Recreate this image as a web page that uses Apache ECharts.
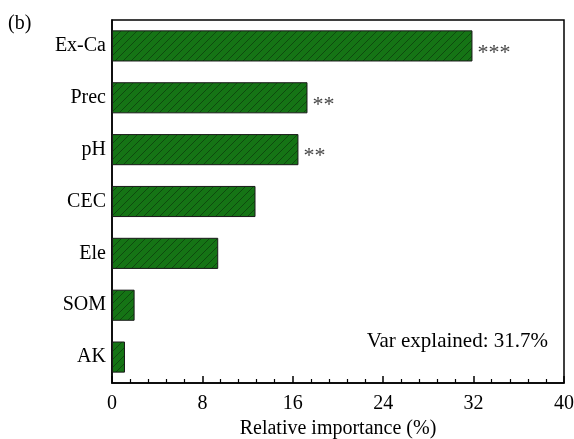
<!DOCTYPE html>
<html>
<head>
<meta charset="utf-8">
<script src="https://cdn.jsdelivr.net/npm/echarts@6/dist/echarts.min.js"></script>
<style>html,body{margin:0;padding:0;background:#fff}#c{width:574px;height:439px}</style>
</head>
<body>
<div id="c"></div>
<script>
var categories = ['Ex-Ca', 'Prec', 'pH', 'CEC', 'Ele', 'SOM', 'AK'];
var importance = [31.9, 17.3, 16.5, 12.7, 9.4, 2.0, 1.15];
var significance = ['***', '**', '**', '', '', '', ''];
var xTicks = [0, 8, 16, 24, 32, 40];

var pc = document.createElement('canvas');
pc.width = 8; pc.height = 8;
var g = pc.getContext('2d');
g.fillStyle = '#157415';
g.fillRect(0, 0, 8, 8);
g.strokeStyle = '#0c3f0c';
g.lineWidth = 0.8;
g.beginPath();
g.moveTo(-1, 9); g.lineTo(9, -1);
g.moveTo(-1, 1); g.lineTo(1, -1);
g.moveTo(7, 9); g.lineTo(9, 7);
g.stroke();

var chart = echarts.init(document.getElementById('c'), null, {renderer: 'canvas'});
var font = 'Liberation Serif';
chart.setOption({
  animation: false,
  grid: {left: 112, right: 10, top: 20, bottom: 56, outerBoundsMode: 'none', containLabel: false,
         show: true, borderColor: '#000', borderWidth: 1.5, backgroundColor: 'transparent'},
  xAxis: {
    type: 'value', min: xTicks[0], max: xTicks[xTicks.length - 1], interval: 8,
    name: 'Relative importance (%)', nameLocation: 'middle', nameGap: 36,
    nameTextStyle: {fontFamily: font, fontSize: 20, color: '#000'},
    axisLine: {show: true, lineStyle: {color: '#000', width: 1.5}},
    axisTick: {show: true, inside: true, length: 7, lineStyle: {color: '#000', width: 1.5}},
    minorTick: {show: true, splitNumber: 5, length: 4, lineStyle: {color: '#000', width: 1.2}},
    splitLine: {show: false},
    axisLabel: {fontFamily: font, fontSize: 20, color: '#000', margin: 11}
  },
  yAxis: {
    type: 'category', data: categories, inverse: true,
    axisLine: {show: true, lineStyle: {color: '#000', width: 1.5}},
    axisTick: {show: false},
    axisLabel: {fontFamily: font, fontSize: 20, color: '#000', margin: 6}
  },
  series: [{
    type: 'bar', data: importance, barCategoryGap: '40%',
    itemStyle: {color: {image: pc, repeat: 'repeat'}, borderColor: '#1a1a1a', borderWidth: 1},
    label: {
      show: true, position: 'right', distance: 5, offset: [0, 7],
      fontFamily: font, fontSize: 22, color: '#444',
      formatter: function (p) { return significance[p.dataIndex]; }
    }
  }],
  graphic: [
    {type: 'text', left: 8, top: 14, style: {text: '(b)', font: '20px "Liberation Serif"', fill: '#000'}},
    {type: 'text', right: 26, top: 331, style: {text: 'Var explained: 31.7%', font: '21px "Liberation Serif"', fill: '#000'}}
  ]
});
</script>
</body>
</html>
